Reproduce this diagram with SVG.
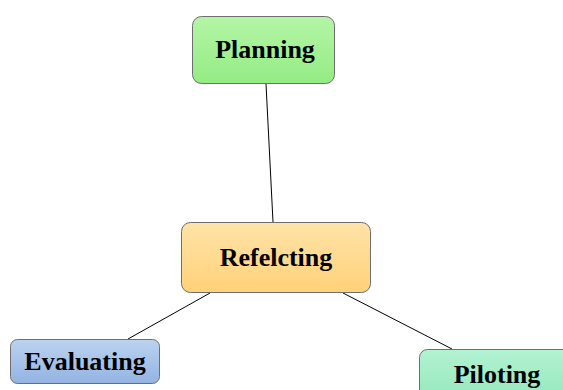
<svg xmlns="http://www.w3.org/2000/svg" width="563" height="390" viewBox="0 0 563 390">
<defs>
<linearGradient id="gG" x1="0" y1="0" x2="0" y2="1"><stop offset="0" stop-color="#b4f5a6"/><stop offset="1" stop-color="#94ec84"/></linearGradient>
<linearGradient id="gO" x1="0" y1="0" x2="0" y2="1"><stop offset="0" stop-color="#ffe3a8"/><stop offset="1" stop-color="#ffd27a"/></linearGradient>
<linearGradient id="gB" x1="0" y1="0" x2="0" y2="1"><stop offset="0" stop-color="#bcd3f0"/><stop offset="1" stop-color="#93b3e2"/></linearGradient>
<linearGradient id="gT" x1="0" y1="0" x2="0" y2="1"><stop offset="0" stop-color="#b2f2d2"/><stop offset="1" stop-color="#90e6b8"/></linearGradient>
</defs>
<style>
.box{stroke:#6e6e6e;stroke-width:1}
.lbl{font-family:"Liberation Serif",serif;font-weight:bold;font-size:26px;fill:#000;text-anchor:middle}
.edge{stroke:#000;stroke-width:1;fill:none}
</style>
<g id="connectors">
<line class="edge" x1="266" y1="84" x2="273" y2="222"/>
<line class="edge" x1="210" y1="293" x2="128" y2="339"/>
<line class="edge" x1="343" y1="293" x2="452" y2="349"/>
</g>
<g id="planning"><rect class="box" x="192.5" y="16.5" width="142" height="67" rx="9" fill="url(#gG)"/><text class="lbl" x="265" y="58">Planning</text></g>
<g id="reflecting"><rect class="box" x="181.5" y="222.5" width="189" height="70" rx="9" fill="url(#gO)"/><text class="lbl" x="276" y="266">Refelcting</text></g>
<g id="evaluating"><rect class="box" x="10.5" y="339.5" width="149" height="44" rx="7" fill="url(#gB)"/><text class="lbl" x="85" y="370">Evaluating</text></g>
<g id="piloting"><rect class="box" x="419.5" y="349.5" width="155" height="60" rx="8" fill="url(#gT)"/><text class="lbl" x="497" y="383">Piloting</text></g>
</svg>
